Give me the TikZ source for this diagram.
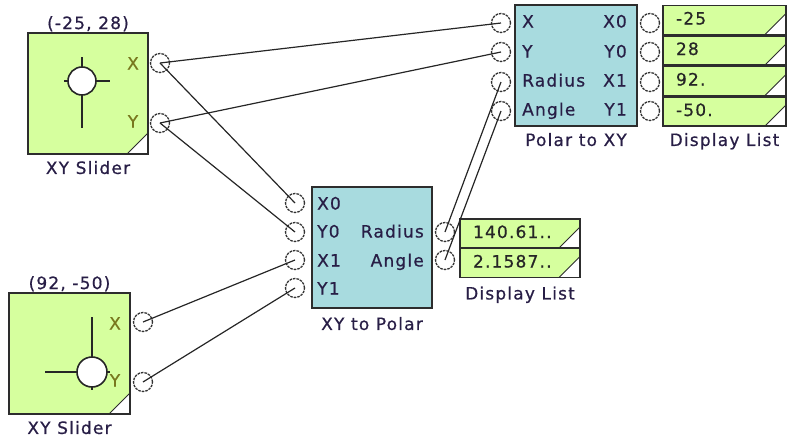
\documentclass[tikz,border=0pt]{standalone}
\usepackage{fontspec}
\setmainfont{DejaVu Sans}[LetterSpace=7,FakeBold=0.6]
\usepackage{xcolor}
\definecolor{sgreen}{RGB}{214,255,158}
\definecolor{bteal}{RGB}{168,219,223}
\definecolor{edgec}{RGB}{45,45,45}
\definecolor{ltext}{RGB}{40,30,70}
\definecolor{olive}{RGB}{120,120,30}
\usepackage{tikz}
\usetikzlibrary{positioning}

\begin{document}
\begin{tikzpicture}[
  x=1pt,y=-1pt,
  font=\fontsize{17}{20}\selectfont,
  corner/.style={path picture={\filldraw[fill=white,draw=edgec,line width=0.8pt] (path picture bounding box.south east) -- ++(-21,0) -- ++(21,-21) -- cycle;}},
  slider/.style={rectangle,draw=edgec,line width=1.5pt,fill=sgreen,minimum width=120pt,minimum height=121pt,inner sep=0pt,corner},
  block/.style={rectangle,draw=edgec,line width=1.5pt,fill=bteal,minimum width=121pt,minimum height=121pt,inner sep=0pt},
  disp/.style={rectangle,draw=edgec,line width=1.5pt,fill=sgreen,minimum height=29pt,inner xsep=13pt,inner ysep=0pt,text width=#1,align=left,text height=12pt,text depth=3pt,text=black!85,corner},
  port/.style={circle,draw=black!80,line width=1.3pt,dash pattern=on 2.6pt off 1pt,minimum size=19pt,inner sep=0pt},
  plab/.style={text=ltext,inner sep=0pt,text height=12pt,text depth=3pt},
  slab/.style={text=olive,inner sep=0pt,text height=12pt,text depth=3pt},
  caption/.style={text=ltext,inner sep=0pt,text height=12pt,text depth=3pt},
  knob/.style={draw=black!85,line width=1.6pt},
  wire/.style={draw=black!85,line width=1.2pt}
]
  \useasboundingbox (0,0) rectangle (788,442);

  % Sliders
  \node[slider] (sl1) at (88,93.5) {};
  \node[caption,above=0pt of sl1] {(-25, 28)};
  \node[caption,below=7pt of sl1] {XY Slider};
  \node[slab] at (133,65) {X};
  \node[slab] at (133,123) {Y};
  \node[port] (sl1x) at (160,63) {};
  \node[port] (sl1y) at (160,123) {};
  \draw[knob,fill=white] (82,81) circle (14);
  \draw[knob] (82,67) -- (82,57) (96,81) -- (110,81) (68,81) -- (64,81) (82,95) -- (82,128);

  \node[slider,minimum width=121pt] (sl2) at (69.5,353.5) {};
  \node[caption,above=0pt of sl2] {(92, -50)};
  \node[caption,below=7pt of sl2] {XY Slider};
  \node[slab] at (115,325) {X};
  \node[slab] at (115,382) {Y};
  \node[port] (sl2x) at (143,322) {};
  \node[port] (sl2y) at (143,382) {};
  \draw[knob,fill=white] (92,372) circle (15);
  \draw[knob] (92,357) -- (92,317) (77,372) -- (45,372) (107,372) -- (110,372) (92,387) -- (92,390);

  % Polar to XY
  \node[block,minimum width=122pt] (ptx) at (576,65.5) {};
  \node[caption,below=7pt of ptx] {Polar to XY};
  \node[plab,anchor=west] at (522,23) {X};
  \node[plab,anchor=west] at (522,53) {Y};
  \node[plab,anchor=west] at (522,82) {Radius};
  \node[plab,anchor=west] at (522,111) {Angle};
  \node[plab,anchor=east] at (627,23) {X0};
  \node[plab,anchor=east] at (627,53) {Y0};
  \node[plab,anchor=east] at (627,82) {X1};
  \node[plab,anchor=east] at (627,111) {Y1};
  \node[port] (ptxX) at (501,23) {};
  \node[port] (ptxY) at (501,52) {};
  \node[port] (ptxR) at (501,82) {};
  \node[port] (ptxA) at (501,111) {};
  \node[port] (ptxX0) at (650,23) {};
  \node[port] (ptxY0) at (650,52) {};
  \node[port] (ptxX1) at (650,82) {};
  \node[port] (ptxY1) at (650,111) {};

  % Display list (top)
  \node[disp=97pt] (dl1a) at (724.5,20) {-25};
  \node[disp=97pt] (dl1b) at (724.5,50.5) {28};
  \node[disp=97pt] (dl1c) at (724.5,81) {92.};
  \node[disp=97pt] (dl1d) at (724.5,111.5) {-50.};
  \node[caption,below=7pt of dl1d] {Display List};

  % XY to Polar
  \node[block,minimum width=120pt] (xtp) at (372,247.5) {};
  \node[caption,below=9pt of xtp] {XY to Polar};
  \node[plab,anchor=west] at (317,205) {X0};
  \node[plab,anchor=west] at (317,233) {Y0};
  \node[plab,anchor=west] at (317,262) {X1};
  \node[plab,anchor=west] at (317,290) {Y1};
  \node[plab,anchor=east] at (424,233) {Radius};
  \node[plab,anchor=east] at (424,262) {Angle};
  \node[port] (xtpX0) at (295,203) {};
  \node[port] (xtpY0) at (295,232) {};
  \node[port] (xtpX1) at (295,260) {};
  \node[port] (xtpY1) at (295,288) {};
  \node[port] (xtpR) at (445,232) {};
  \node[port] (xtpA) at (445,260) {};

  % Display list (middle)
  \node[disp=94pt] (dl2a) at (520,233.5) {140.61..};
  \node[disp=94pt] (dl2b) at (520,263) {2.1587..};
  \node[caption,below=9pt of dl2b] {Display List};

  % Wires
  \draw[wire] (sl1x.center) -- (ptxX.center);
  \draw[wire] (sl1x.center) -- (xtpX0.center);
  \draw[wire] (sl1y.center) -- (ptxY.center);
  \draw[wire] (sl1y.center) -- (xtpY0.center);
  \draw[wire] (sl2x.center) -- (xtpX1.center);
  \draw[wire] (sl2y.center) -- (xtpY1.center);
  \draw[wire] (xtpR.center) -- (ptxR.center);
  \draw[wire] (xtpA.center) -- (ptxA.center);
\end{tikzpicture}
\end{document}
